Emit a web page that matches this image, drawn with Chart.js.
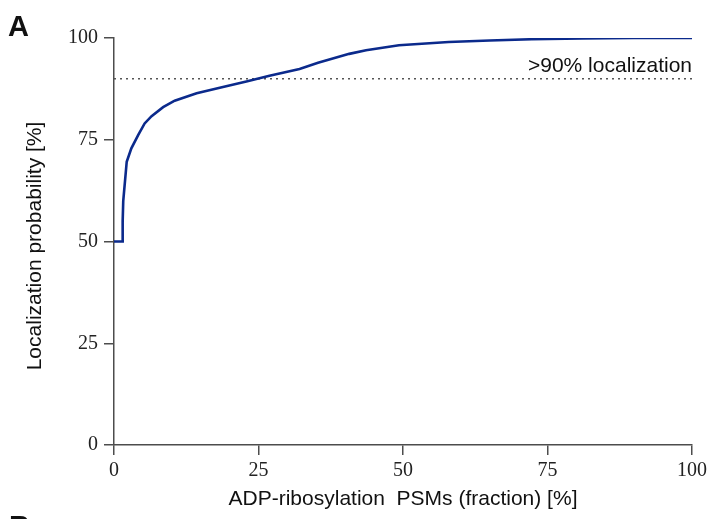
<html>
<head>
  <script src="https://cdn.jsdelivr.net/npm/chart.js"></script>
  <style>
    body { margin: 0; background: #fff; }
    #wrap { width: 709px; height: 519px; }
  </style>
</head>
<body>
  <div id="wrap"><canvas id="myChart" width="709" height="519"></canvas></div>
  <script>
    // cumulative curve
    let psmFraction = [0, 1.4, 1.5, 1.6, 2.2, 3.0, 4.2, 5.3, 6.5, 8.5, 10.5, 14.3, 18.3, 22.9, 26.9, 32.1, 35.3, 40.7, 43.6, 49.3, 57.9, 65, 72.3, 81, 90, 100];
    let locProb = [50, 50, 55, 60, 69.6, 72.9, 76.2, 79, 80.8, 83, 84.6, 86.4, 87.8, 89.3, 90.7, 92.4, 93.9, 96.1, 97, 98.2, 99.0, 99.4, 99.7, 99.9, 100, 100];
    let cutoffX = [0, 100];
    let cutoffY = [90, 90];
    let tickValues = [0, 25, 50, 75, 100];

    const axisColor = '#4d4d4d';
    const sans = 'Arial, "Liberation Sans", sans-serif';
    const serif = '"Liberation Serif", "Times New Roman", serif';

    let textPlugin = {
      id: 'texts',
      afterDraw: function (chart) {
        const ctx = chart.ctx;
        const area = chart.chartArea;
        ctx.save();
        ctx.fillStyle = '#111';
        ctx.font = 'bold 29px ' + sans;
        ctx.textAlign = 'left';
        ctx.textBaseline = 'alphabetic';
        ctx.fillText('A', 8, 36);
        ctx.fillText('B', 9, 536);

        ctx.font = '21px ' + sans;
        ctx.textAlign = 'right';
        ctx.fillText('>90% localization', area.right, 72);

        ctx.textAlign = 'center';
        ctx.fillText('ADP-ribosylation  PSMs (fraction) [%]', (area.left + area.right) / 2, 505);

        ctx.translate(41, 246);
        ctx.rotate(-Math.PI / 2);
        ctx.fillText('Localization probability [%]', 0, 0);
        ctx.restore();
      }
    };

    let xy = (xs, ys) => xs.map((x, i) => ({x: x, y: ys[i]}));

    new Chart(document.getElementById('myChart'), {
      type: 'line',
      data: {
        datasets: [
          {
            data: xy(psmFraction, locProb),
            borderColor: '#0b2a8c',
            borderWidth: 2.6,
            pointRadius: 0,
            tension: 0
          },
          {
            data: xy(cutoffX, cutoffY),
            borderColor: '#555555',
            borderWidth: 1.4,
            borderDash: [2, 4],
            pointRadius: 0
          }
        ]
      },
      options: {
        responsive: false,
        animation: false,
        layout: { padding: { left: 0, right: 17, top: 38, bottom: 0 } },
        plugins: { legend: { display: false }, tooltip: { enabled: false } },
        scales: {
          x: {
            type: 'linear',
            min: 0,
            max: 100,
            afterBuildTicks: s => { s.ticks = tickValues.map(v => ({value: v})); },
            afterFit: s => { s.height = 74; s.paddingLeft = 0; s.paddingRight = 0; },
            border: { color: axisColor, width: 1.5 },
            grid: { drawOnChartArea: false, tickLength: 10, color: axisColor, lineWidth: 1.5 },
            ticks: { color: '#222', font: { family: serif, size: 20 }, padding: 4, maxRotation: 0 }
          },
          y: {
            min: 0,
            max: 100,
            afterBuildTicks: s => { s.ticks = tickValues.map(v => ({value: v})); },
            afterFit: s => { s.width = 114; s.paddingTop = 0; s.paddingBottom = 0; },
            border: { color: axisColor, width: 1.5 },
            grid: { drawOnChartArea: false, tickLength: 10, color: axisColor, lineWidth: 1.5 },
            ticks: { color: '#222', font: { family: serif, size: 20 }, padding: 6 }
          }
        }
      },
      plugins: [textPlugin]
    });
  </script>
</body>
</html>
